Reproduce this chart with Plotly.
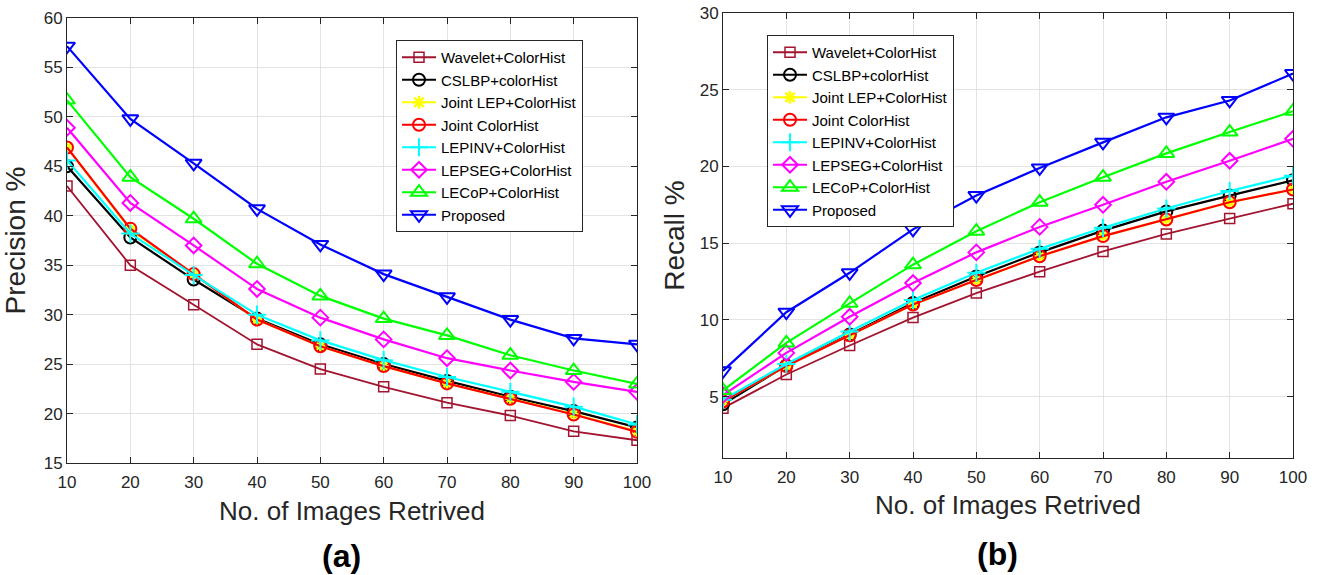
import plotly.graph_objects as go

x_vals = [10, 20, 30, 40, 50, 60, 70, 80, 90, 100]

names = ["Wavelet+ColorHist", "CSLBP+colorHist", "Joint LEP+ColorHist", "Joint ColorHist",
         "LEPINV+ColorHist", "LEPSEG+ColorHist", "LECoP+ColorHist", "Proposed"]

# Precision (%) - panel (a)
prec_wavelet = [43.0, 35.0, 31.0, 27.0, 24.5, 22.7, 21.1, 19.8, 18.2, 17.3]
prec_cslbp   = [45.0, 37.8, 33.55, 29.6, 27.0, 25.0, 23.3, 21.7, 20.25, 18.6]
prec_jointlep = [46.9, 38.6, 34.1, 29.5, 26.8, 24.8, 23.05, 21.5, 19.95, 18.2]
prec_jointch = [46.9, 38.7, 34.1, 29.5, 26.8, 24.8, 23.05, 21.5, 19.9, 18.15]
prec_lepinv  = [45.6, 38.2, 34.0, 30.0, 27.4, 25.4, 23.7, 22.2, 20.7, 18.9]
prec_lepseg  = [48.9, 41.3, 37.0, 32.6, 29.7, 27.5, 25.6, 24.35, 23.2, 22.2]
prec_lecop   = [51.7, 43.9, 39.7, 35.15, 31.9, 29.6, 27.9, 25.9, 24.35, 23.0]
prec_proposed = [57.15, 49.8, 45.3, 40.7, 37.1, 34.1, 31.8, 29.5, 27.6, 27.0]

# Recall (%) - panel (b)
rec_wavelet = [4.25, 6.44, 8.33, 10.15, 11.75, 13.14, 14.46, 15.6, 16.6, 17.57]
rec_cslbp   = [4.5, 7.03, 9.05, 11.1, 12.83, 14.4, 15.82, 17.07, 18.1, 19.1]
rec_jointlep = [4.7, 7.0, 9.0, 11.0, 12.6, 14.15, 15.46, 16.54, 17.67, 18.5]
rec_jointch = [4.7, 7.0, 9.0, 11.0, 12.6, 14.15, 15.46, 16.54, 17.67, 18.5]
rec_lepinv  = [4.8, 7.13, 9.24, 11.3, 13.07, 14.63, 16.0, 17.26, 18.4, 19.4]
rec_lepseg  = [5.1, 7.85, 10.2, 12.4, 14.4, 16.06, 17.5, 19.0, 20.37, 21.8]
rec_lecop   = [5.4, 8.5, 11.08, 13.6, 15.78, 17.67, 19.3, 20.85, 22.24, 23.6]
rec_proposed = [6.68, 10.5, 13.07, 15.9, 18.1, 19.9, 21.57, 23.2, 24.3, 26.05]

prec_series = [prec_wavelet, prec_cslbp, prec_jointlep, prec_jointch,
               prec_lepinv, prec_lepseg, prec_lecop, prec_proposed]
rec_series = [rec_wavelet, rec_cslbp, rec_jointlep, rec_jointch,
              rec_lepinv, rec_lepseg, rec_lecop, rec_proposed]

colors = ["#A2142F", "#000000", "#FFFF00", "#FF0000", "#00FFFF", "#FF00FF", "#00FF00", "#0000FF"]
symbols = ["square-open", "circle-open", "asterisk-open", "circle-open",
           "cross-thin-open", "diamond-open", "triangle-up-open", "triangle-down-open"]
msizes = [10, 12, 11, 12, 13, 12, 14, 14]
mlw = [1.5, 2, 2.5, 2, 2, 2, 2, 2]

fig = go.Figure()
for panel, (series, xa, ya, leg) in enumerate([(prec_series, "x", "y", "legend"),
                                               (rec_series, "x2", "y2", "legend2")]):
    for i, vals in enumerate(series):
        fig.add_trace(go.Scatter(
            x=x_vals, y=vals, name=names[i], mode="lines+markers",
            xaxis=xa, yaxis=ya, legend=leg,
            line=dict(color=colors[i], width=2.2 if i != 0 else 1.8),
            marker=dict(symbol=symbols[i], size=msizes[i], color=colors[i],
                        line=dict(color=colors[i], width=mlw[i])),
        ))

font_family = "Liberation Sans, Arial, sans-serif"
axis_common = dict(
    showline=True, linecolor="#262626", linewidth=1, mirror="ticks",
    ticks="inside", ticklen=6, tickcolor="#262626",
    showgrid=True, gridcolor="#e3e3e3", gridwidth=1,
    zeroline=False, automargin=False,
    tickfont=dict(size=17, color="#262626", family=font_family),
)

fig.update_layout(
    width=1318, height=575,
    margin=dict(l=0, r=0, t=0, b=0),
    paper_bgcolor="white", plot_bgcolor="white",
    font=dict(family=font_family, color="#262626"),
    xaxis=dict(domain=[67/1318, 637/1318], range=[10, 100], tickvals=x_vals, ticklabelstandoff=4,
               title=dict(text="No. of Images Retrived", font=dict(size=26, color="#262626"), standoff=10),
               anchor="y", **axis_common),
    yaxis=dict(domain=[1-463/575, 1-18/575], range=[15, 60], tickvals=list(range(15, 61, 5)),
               title=dict(text="Precision %", font=dict(size=28, color="#262626"), standoff=9),
               anchor="x", **axis_common),
    xaxis2=dict(domain=[723/1318, 1293/1318], range=[10, 100], tickvals=x_vals, ticklabelstandoff=4,
                title=dict(text="No. of Images Retrived", font=dict(size=26, color="#262626"), standoff=9),
                anchor="y2", **axis_common),
    yaxis2=dict(domain=[1-458/575, 1-13/575], range=[1, 30], tickvals=list(range(5, 31, 5)),
                title=dict(text="Recall %", font=dict(size=28, color="#262626"), standoff=6),
                anchor="x2", **axis_common),
    legend=dict(x=396/1318, y=1-40/575, xanchor="left", yanchor="top",
                bgcolor="white", bordercolor="#262626", borderwidth=1,
                font=dict(size=15, color="#000000"), tracegroupgap=0, itemwidth=34),
    legend2=dict(x=767/1318, y=1-35/575, xanchor="left", yanchor="top",
                 bgcolor="white", bordercolor="#262626", borderwidth=1,
                 font=dict(size=15, color="#000000"), tracegroupgap=0, itemwidth=34),
    annotations=[
        dict(text="<b>(a)</b>", x=341/1318, y=1-556/575, xref="paper", yref="paper",
             xanchor="center", yanchor="middle",
             showarrow=False, font=dict(size=32, color="#000000")),
        dict(text="<b>(b)</b>", x=997/1318, y=1-554/575, xref="paper", yref="paper",
             xanchor="center", yanchor="middle",
             showarrow=False, font=dict(size=32, color="#000000")),
    ],
)

fig.write_html("out.html", config={"displayModeBar": False},
               post_script="document.body.style.margin='0';document.body.style.overflow='hidden';")
